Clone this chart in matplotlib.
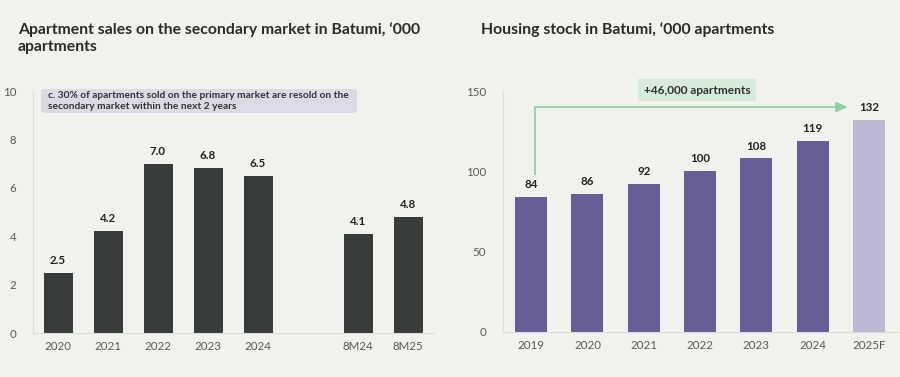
import matplotlib
matplotlib.use("Agg")
import matplotlib.pyplot as plt
from matplotlib.patches import FancyBboxPatch

plt.rcParams['font.family'] = ['Lato', 'DejaVu Sans']

# Data
sales_labels = ["2020", "2021", "2022", "2023", "2024", "8M24", "8M25"]
sales_values = [2.5, 4.2, 7.0, 6.8, 6.5, 4.1, 4.8]
sales_pos = [0, 1, 2, 3, 4, 6, 7]

stock_labels = ["2019", "2020", "2021", "2022", "2023", "2024", "2025F"]
stock_values = [84, 86, 92, 100, 108, 119, 132]

BG = "#f1f1ed"
DARK = "#383b3a"
PURPLE = "#675d97"
LIGHT_PURPLE = "#bcb7d3"
GREEN = "#92cfa2"
GREEN_BG = "#d6ebdc"
TICK = "#5a5a5a"
SPINE = "#dcdcd8"

fig = plt.figure(figsize=(9, 3.77), dpi=100)
fig.patch.set_facecolor(BG)

ax1 = fig.add_axes([33/900, 1-333/377, 400/900, (333-91)/377])
ax2 = fig.add_axes([503/900, 1-332/377, 394/900, (332-91)/377])

for ax in (ax1, ax2):
    ax.set_facecolor(BG)
    for s in ("top", "right"):
        ax.spines[s].set_visible(False)
    for s in ("left", "bottom"):
        ax.spines[s].set_color(SPINE)
        ax.spines[s].set_linewidth(0.8)
    ax.tick_params(length=0, labelsize=8.3, colors=TICK, pad=6)
    ax.tick_params(axis="y", pad=12)

# Left chart
ax1.bar(sales_pos, sales_values, width=0.58, color=DARK)
ax1.set_xlim(-0.5, 7.5)
ax1.set_ylim(0, 10)
ax1.set_yticks([0, 2, 4, 6, 8, 10])
ax1.set_xticks(sales_pos)
ax1.set_xticklabels(sales_labels)
for p, v in zip(sales_pos, sales_values):
    ax1.annotate(f"{v:.1f}", (p, v), xytext=(0, 5), textcoords="offset points",
                 ha="center", va="bottom", fontsize=8.3, fontweight="bold", color="#222222")

# annotation box left
fig.patches.append(FancyBboxPatch((41/900, 1-113/377), 316/900, 24/377,
                                  boxstyle="round,pad=0,rounding_size=0.006",
                                  transform=fig.transFigure, facecolor="#dcdae5",
                                  edgecolor="none", zorder=5))
fig.text(48/900, 1-101/377,
         "c. 30% of apartments sold on the primary market are resold on the\nsecondary market within the next 2 years",
         fontsize=7.3, fontweight="bold", color="#333333", va="center", ha="left",
         linespacing=1.15, zorder=6)

# Right chart
colors = [PURPLE]*(len(stock_values)-1) + [LIGHT_PURPLE]
xs = list(range(len(stock_values)))
ax2.bar(xs, stock_values, width=0.57, color=colors)
ax2.set_xlim(-0.5, 6.5)
ax2.set_ylim(0, 150)
ax2.set_yticks([0, 50, 100, 150])
ax2.set_xticks(xs)
ax2.set_xticklabels(stock_labels)
for p, v in zip(xs, stock_values):
    ax2.annotate(f"{v}", (p, v), xytext=(0, 5), textcoords="offset points",
                 ha="center", va="bottom", fontsize=8.3, fontweight="bold", color="#222222")

# Arrow
ax2.plot([0.07, 0.07], [97.7, 140], color=GREEN, lw=1.3, solid_capstyle="butt",
         solid_joinstyle="miter", clip_on=False)
ax2.annotate("", xy=(5.63, 140), xytext=(0.07 - 0.012, 140),
             arrowprops=dict(arrowstyle="-|>,head_length=0.7,head_width=0.3",
                             mutation_scale=10, color=GREEN, lw=1.3,
                             shrinkA=0, shrinkB=0),
             annotation_clip=False)
fig.text(697/900, 1-90/377, "+46,000 apartments", fontsize=8.6, fontweight="bold",
         color="#333333", ha="center", va="center",
         bbox=dict(boxstyle="square,pad=0.5", facecolor=GREEN_BG, edgecolor="none"))

# Titles
fig.text(18/900, 1-38/377, "Apartment sales on the secondary market in Batumi, \u2018000\napartments",
         fontsize=11.3, fontweight="bold", color="#2b2b2b", ha="left", va="center", linespacing=1.25)
fig.text(481/900, 1-30/377, "Housing stock in Batumi, \u2018000 apartments",
         fontsize=11.3, fontweight="bold", color="#2b2b2b", ha="left", va="center")

fig.savefig("out.png", dpi=100, facecolor=BG)
